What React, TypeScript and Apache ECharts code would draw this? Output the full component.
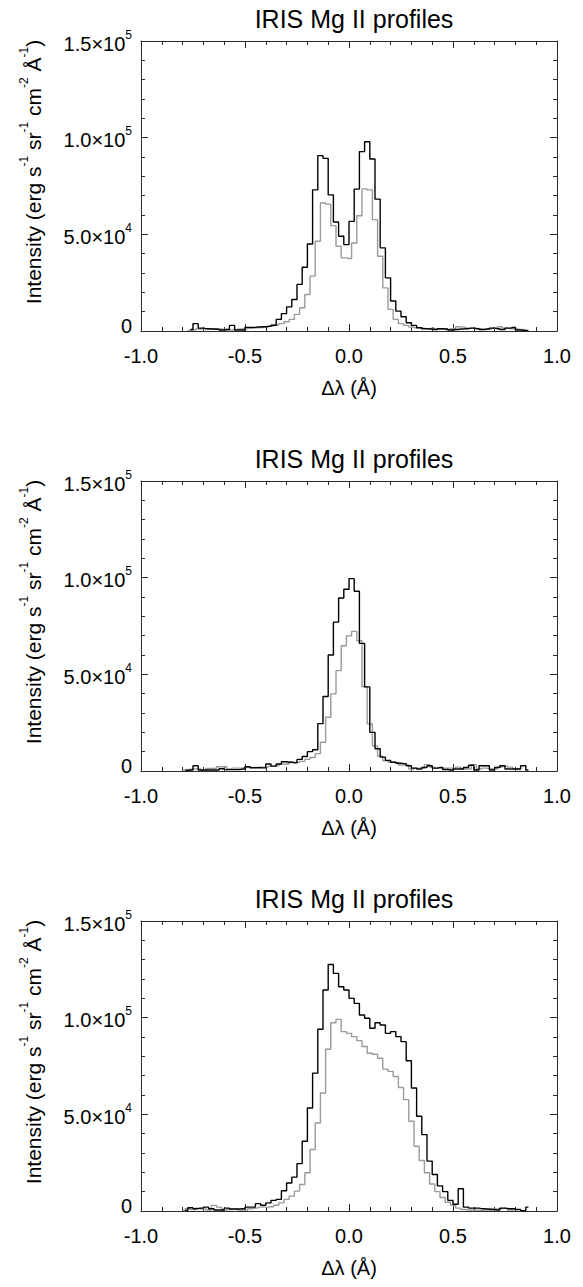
import React, { useEffect, useRef } from "react";
import * as echarts from "echarts";

// ---------- data (intensities in units of 1e4 erg s^-1 sr^-1 cm^-2 Å^-1) ----------
const BIN = 0.025; // Å per spectral pixel
const UNIT = 1e4;
const TITLE = "IRIS Mg II profiles";
const X_TICK_INTERVAL = 0.5;
const X_MIN = -1.0;
const X_MAX = 1.0;
const Y_MIN = 0;
const Y_MAX = 150000;
const Y_TICK_INTERVAL = 50000;

// black profile bins are centred at (i + 0.5) * BIN, gray at j * BIN
const P1_BLACK_FIRST = -31;
const P1_BLACK = [
  0.08, 0.38, 0.15, 0.12, 0.10, 0.09, 0.05, 0.08, 0.29, 0.05, 0.05, 0.19, 0.19, 0.21, 0.22, 0.24,
  0.30, 0.60, 0.90, 1.25, 1.63, 2.41, 3.30, 4.50, 7.30, 9.07, 8.93, 7.04, 5.64, 4.90, 4.47,
  5.67, 7.34, 9.28, 9.79, 8.90, 6.82, 4.30, 2.75, 1.55, 1.03, 0.74, 0.43, 0.29, 0.17, 0.12,
  0.10, 0.08, 0.12, 0.10, 0.05, 0.08, 0.10, 0.12, 0.15, 0.12, 0.08, 0.10, 0.15, 0.12, 0.08,
  0.15, 0.18, 0.05, 0.03, 0.03,
];
const P1_GRAY_FIRST = -31;
const P1_GRAY = [
  0.03, 0.05, 0.10, 0.12, 0.10, 0.12, 0.10, 0.08, 0.05, 0.08, 0.10, 0.12, 0.14, 0.16, 0.18, 0.20,
  0.25, 0.31, 0.38, 0.48, 0.60, 0.86, 1.20, 1.89, 2.84, 4.64, 6.62, 6.56, 5.45, 4.38, 3.78,
  3.75, 4.55, 5.96, 7.35, 7.30, 5.76, 3.87, 2.23, 1.12, 0.60, 0.38, 0.29, 0.21, 0.17, 0.14,
  0.12, 0.14, 0.10, 0.12, 0.08, 0.12, 0.22, 0.20, 0.15, 0.15, 0.12, 0.08, 0.10, 0.14, 0.22,
  0.15, 0.12, 0.10, 0.08, 0.05,
];

const P2_BLACK_FIRST = -32;
const P2_BLACK = [
  0.03, 0.05, 0.27, 0.05, 0.05, 0.05, 0.05, 0.12, 0.07, 0.07, 0.07, 0.10, 0.22, 0.17, 0.17, 0.16,
  0.36, 0.25, 0.36, 0.48, 0.45, 0.42, 0.60, 0.75, 1.00, 1.10, 2.45, 3.85, 6.00, 7.70, 8.95, 9.40,
  9.95, 9.30, 6.60, 4.35, 2.00, 1.15, 0.72, 0.55, 0.45, 0.40, 0.38, 0.27, 0.15, 0.10, 0.18, 0.27,
  0.15, 0.18, 0.08, 0.05, 0.10, 0.10, 0.18, 0.30, 0.05, 0.27, 0.27, 0.05, 0.18, 0.27, 0.10, 0.10,
  0.10, 0.27, 0.05,
];
const P2_GRAY_FIRST = -32;
const P2_GRAY = [
  0.05, 0.08, 0.10, 0.10, 0.05, 0.13, 0.13, 0.22, 0.22, 0.10, 0.15, 0.15, 0.18, 0.18, 0.18, 0.20,
  0.20, 0.25, 0.27, 0.35, 0.36, 0.45, 0.45, 0.50, 0.60, 0.70, 0.90, 1.49, 2.78, 3.99, 5.19, 6.48,
  6.99, 7.22, 6.74, 4.36, 2.44, 1.30, 0.76, 0.53, 0.45, 0.45, 0.31, 0.31, 0.10, 0.15, 0.15, 0.33,
  0.20, 0.15, 0.15, 0.15, 0.15, 0.20, 0.10, 0.10, 0.33, 0.10, 0.15, 0.12, 0.10, 0.20, 0.25, 0.20,
  0.12, 0.08,
];

const P3_BLACK_FIRST = -32;
const P3_BLACK = [
  0.03, 0.17, 0.12, 0.15, 0.20, 0.12, 0.05, 0.05, 0.15, 0.10, 0.10, 0.12, 0.20, 0.20, 0.38, 0.30,
  0.42, 0.55, 0.60, 1.05, 1.45, 1.75, 2.45, 3.61, 5.33, 7.13, 9.40, 11.43, 12.75, 12.29, 11.60, 11.43,
  11.00, 10.74, 10.14, 9.97, 9.45, 9.74, 9.62, 9.19, 9.28, 9.02, 8.76, 7.77, 6.36, 4.90, 3.95, 2.58,
  1.89, 1.30, 1.00, 0.55, 0.35, 1.15, 0.20, 0.15, 0.15, 0.12, 0.10, 0.08, 0.05, 0.15, 0.12, 0.12,
  0.08, 0.02, 0.20,
];
const P3_GRAY_FIRST = -32;
const P3_GRAY = [
  0.03, 0.12, 0.07, 0.15, 0.10, 0.05, 0.29, 0.20, 0.05, 0.08, 0.10, 0.05, 0.05, 0.12, 0.15, 0.20,
  0.20, 0.22, 0.30, 0.42, 0.60, 0.77, 1.03, 1.37, 1.98, 3.18, 4.55, 6.10, 8.37, 9.74, 9.91, 9.28,
  9.19, 9.02, 8.81, 8.51, 8.16, 8.11, 7.90, 7.34, 7.22, 6.96, 6.39, 5.76, 4.64, 3.35, 2.61, 1.98,
  1.40, 1.00, 0.70, 0.45, 0.30, 0.15, 0.08, 0.05, 0.05, 0.03, 0.05, 0.05, 0.10, 0.12, 0.15, 0.05,
  0.08,
];

const PANELS = [
  { black: P1_BLACK, blackFirst: P1_BLACK_FIRST, gray: P1_GRAY, grayFirst: P1_GRAY_FIRST },
  { black: P2_BLACK, blackFirst: P2_BLACK_FIRST, gray: P2_GRAY, grayFirst: P2_GRAY_FIRST },
  { black: P3_BLACK, blackFirst: P3_BLACK_FIRST, gray: P3_GRAY, grayFirst: P3_GRAY_FIRST },
];

// ---------- layout ----------
const W = 583;
const H = 1287;
const GRID_LEFT = 141;
const GRID_WIDTH = 416;
const GRID_HEIGHT = 290;
const GRID_TOPS = [41, 481, 921];
const FONT = "'Liberation Sans', Arial, Helvetica, sans-serif";
const AXIS_COLOR = "#2a2a2a";

const toPairs = (vals: number[], first: number, offset: number) =>
  vals.map((v, k) => [(first + k + offset) * BIN, v * UNIT]);

const fmtY = (v: number) => {
  if (v === 0) return "{z|0}";
  const e = Math.floor(Math.log10(v) + 1e-9);
  const m = v / Math.pow(10, e);
  return `{b|${m.toFixed(1)}×10}{s|${e}}`;
};

const Y_NAME =
  "{b|Intensity (erg s}{s|-1}{b| sr}{s|-1}{b| cm}{s|-2}{b| Å}{s|-1}{b|)}";

export default function App() {
  const ref = useRef<HTMLDivElement>(null);

  useEffect(() => {
    if (!ref.current) return;
    const chart = echarts.init(ref.current, undefined, { renderer: "svg" });

    const tickLine = { color: AXIS_COLOR, width: 1 };
    const grids: any[] = [];
    const xAxes: any[] = [];
    const yAxes: any[] = [];
    const series: any[] = [];
    const titles: any[] = [];

    GRID_TOPS.forEach((top, g) => {
      grids.push({ left: GRID_LEFT, top, width: GRID_WIDTH, height: GRID_HEIGHT, containLabel: false });
      titles.push({
        text: TITLE,
        left: GRID_LEFT + GRID_WIDTH / 2,
        top: top - 40,
        textAlign: "center",
        textStyle: { fontSize: 25, fontWeight: "normal", color: "#000", fontFamily: FONT },
      });
      const xCommon = {
        gridIndex: g,
        type: "value",
        min: X_MIN,
        max: X_MAX,
        interval: X_TICK_INTERVAL,
        axisLine: { show: true, onZero: false, lineStyle: tickLine },
        axisTick: { show: true, inside: true, length: 7, lineStyle: tickLine },
        minorTick: { show: true, splitNumber: 5, length: 4, lineStyle: tickLine },
        splitLine: { show: false },
      };
      xAxes.push({
        ...xCommon,
        position: "bottom",
        axisLabel: {
          show: true,
          showMinLabel: true,
          showMaxLabel: true,
          formatter: (v: number) => v.toFixed(1),
          fontSize: 20,
          color: "#000",
          margin: 15,
          fontFamily: FONT,
        },
        name: "Δλ (Å)",
        nameLocation: "middle",
        nameGap: 47,
        nameTextStyle: { fontSize: 20, color: "#000", fontFamily: FONT },
      });
      xAxes.push({ ...xCommon, position: "top", axisLabel: { show: false } });

      const yCommon = {
        gridIndex: g,
        type: "value",
        min: Y_MIN,
        max: Y_MAX,
        interval: Y_TICK_INTERVAL,
        axisLine: { show: true, onZero: false, lineStyle: tickLine },
        axisTick: { show: true, inside: true, length: 7, lineStyle: tickLine },
        minorTick: { show: true, splitNumber: 5, length: 4, lineStyle: tickLine },
        splitLine: { show: false },
      };
      yAxes.push({
        ...yCommon,
        position: "left",
        axisLabel: {
          show: true,
          showMinLabel: true,
          showMaxLabel: true,
          formatter: fmtY,
          margin: 9,
          color: "#000",
          fontFamily: FONT,
          padding: [5, 0, 0, 0],
          rich: {
            b: { fontSize: 20, lineHeight: 30, color: "#000", fontFamily: FONT },
            s: { fontSize: 12, lineHeight: 14, verticalAlign: "top", color: "#000", fontFamily: FONT },
            z: { fontSize: 20, lineHeight: 20, padding: [0, 0, 15, 0], color: "#000", fontFamily: FONT },
          },
        },
        name: Y_NAME,
        nameLocation: "middle",
        nameGap: 93,
        nameTextStyle: {
          color: "#000",
          fontFamily: FONT,
          padding: [0, 0, 0, 28],
          rich: {
            b: { fontSize: 21, lineHeight: 30, color: "#000", fontFamily: FONT },
            s: { fontSize: 12, lineHeight: 14, verticalAlign: "top", color: "#000", fontFamily: FONT },
          },
        },
      });
      yAxes.push({ ...yCommon, position: "right", axisLabel: { show: false } });

      const p = PANELS[g];
      series.push({
        type: "line",
        step: "middle",
        xAxisIndex: g * 2,
        yAxisIndex: g * 2,
        symbol: "none",
        data: toPairs(p.gray, p.grayFirst, 0),
        lineStyle: { color: "#9a9a9a", width: 1.4 },
        silent: true,
      });
      series.push({
        type: "line",
        step: "middle",
        xAxisIndex: g * 2,
        yAxisIndex: g * 2,
        symbol: "none",
        data: toPairs(p.black, p.blackFirst, 0.5),
        lineStyle: { color: "#000", width: 1.4 },
        silent: true,
      });
    });

    chart.setOption({
      animation: false,
      backgroundColor: "#fff",
      textStyle: { fontFamily: FONT },
      title: titles,
      grid: grids,
      xAxis: xAxes,
      yAxis: yAxes,
      series,
    });

    return () => chart.dispose();
  }, []);

  return (
    <div
      ref={ref}
      style={{ position: "absolute", left: 0, top: 0, width: W, height: H, background: "#fff" }}
    />
  );
}
